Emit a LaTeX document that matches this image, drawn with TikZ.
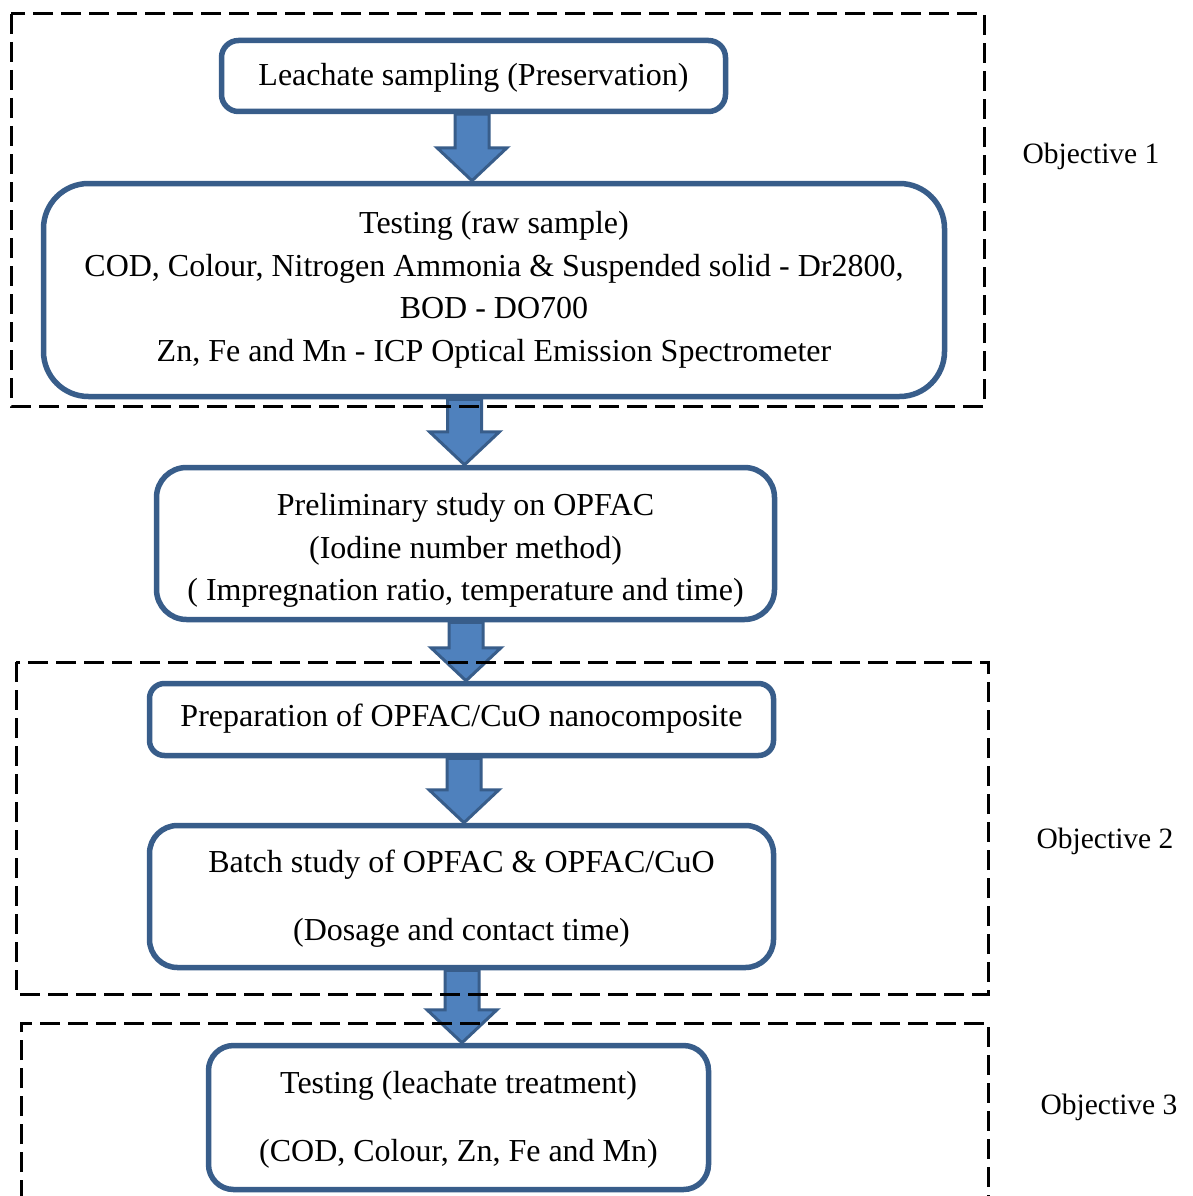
\documentclass[tikz,border=0pt]{standalone}
\usepackage{fontspec}
\setmainfont{Liberation Serif}
\usetikzlibrary{calc}
\definecolor{boxline}{HTML}{385D8A}
\definecolor{arrfill}{HTML}{4F81BD}
\tikzset{
  flowbox/.style={draw=boxline, line width=5.5pt, inner sep=0pt},
  boxtext/.style={inner sep=0pt, align=center, font=\fontsize{32}{42.5}\selectfont},
  arr/.style={draw=boxline, fill=arrfill, line width=3pt, line join=miter},
  objbox/.style={draw=black, line width=3pt, dash pattern=on 20pt off 8pt},
  objlabel/.style={inner sep=0pt, font=\fontsize{29.5}{34}\selectfont}
}
\newcommand\blockarr[3]{%
  \draw[arr] let \p1=(#2.south), \p2=(#3.north) in
  ({#1pt-17pt},\y1) -- ({#1pt+17pt},\y1) -- ({#1pt+17pt},\y2+33pt) -- ({#1pt+35pt},\y2+33pt)
  -- (#1pt,\y2) -- ({#1pt-35pt},\y2+33pt) -- ({#1pt-17pt},\y2+33pt) -- cycle;}
\begin{document}
\begin{tikzpicture}[x=1pt,y=-1pt]
\useasboundingbox (0,0) rectangle (1193,1196);
\fill[white] (0,0) rectangle (1193,1196);

\node[flowbox, minimum width=504pt, minimum height=71pt, rounded corners=17pt] (b1) at (473.5,76) {};
\node[flowbox, minimum width=901pt, minimum height=213pt, rounded corners=45pt] (b2) at (494,290) {};
\node[flowbox, minimum width=618pt, minimum height=152pt, rounded corners=30pt] (b3) at (465.5,543.5) {};
\node[flowbox, minimum width=624pt, minimum height=72pt, rounded corners=15pt] (b4) at (461.5,719.5) {};
\node[flowbox, minimum width=624pt, minimum height=142pt, rounded corners=28pt] (b5) at (461.5,896.5) {};
\node[flowbox, minimum width=500pt, minimum height=144pt, rounded corners=25pt] (b6) at (458.5,1117.5) {};

\node[boxtext] (t1) at ($(b1.center)+(0,2)$) {Leachate sampling (Preservation)};
\node[boxtext] (t2) at (b2.center)
  {Testing (raw sample)\\COD, Colour, Nitrogen Ammonia \& Suspended solid - Dr2800,\\BOD - DO700\\Zn, Fe and Mn - ICP Optical Emission Spectrometer};
\node[boxtext] (t3) at ($(b3.center)+(0,7)$)
  {Preliminary study on OPFAC\\(Iodine number method)\\( Impregnation ratio, temperature and time)};
\node[boxtext] (t4) at ($(b4.center)+(0,-1)$) {Preparation of OPFAC/CuO nanocomposite};
\node[boxtext] (t5) at ($(b5.center)+(0,2)$)
  {Batch study of OPFAC \& OPFAC/CuO\\[26pt](Dosage and contact time)};
\node[boxtext] (t6) at ($(b6.center)+(0,2.5)$)
  {Testing (leachate treatment)\\[26pt](COD, Colour, Zn, Fe and Mn)};

\blockarr{472}{b1}{b2}
\blockarr{464.5}{b2}{b3}
\blockarr{466}{b3}{b4}
\blockarr{464}{b4}{b5}
\blockarr{462}{b5}{b6}

\draw[objbox] (11,14) rectangle (984,406);
\draw[objbox] (16,662) rectangle (988,994);
\draw[objbox] (21,1200) -- (21,1023) -- (988,1023) -- (988,1200);

\node[objlabel] (o1) at (1091,156) {Objective 1};
\node[objlabel] (o2) at (1105,841) {Objective 2};
\node[objlabel] (o3) at (1109,1107) {Objective 3};
\end{tikzpicture}
\end{document}
